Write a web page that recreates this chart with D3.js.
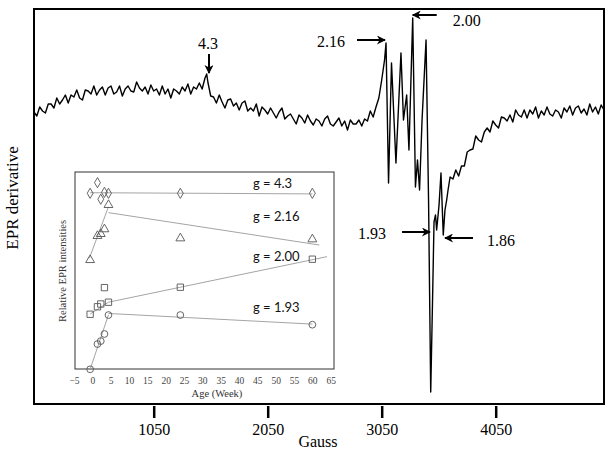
<!DOCTYPE html>
<html lang="en">
<head>
<meta charset="UTF-8">
<title>EPR spectrum</title>
<style>
  body { margin: 0; background: #fff; }
  svg { display: block; }
</style>
</head>
<body>
<div id="chart"></div>
<script src="https://cdn.jsdelivr.net/npm/d3@7"></script>
<script>
// main spectrum (Gauss, derivative signal in arbitrary units)
var specGauss = [0,25,50,75,100,125,150,175,200,225,250,275,300,325,350,375,400,425,450,475,
  500,525,550,575,600,625,650,675,700,725,750,775,800,825,850,875,900,925,950,975,
  1000,1025,1050,1075,1100,1125,1150,1175,1200,1225,1250,1275,1300,1325,1350,1375,1400,1425,1450,1475,
  1500,1515,1525,1550,1575,1600,1625,1650,1675,1700,1725,1750,1775,1800,1825,1850,1875,1900,1925,1950,1975,
  2000,2025,2050,2075,2100,2125,2150,2175,2200,2225,2250,2275,2300,2325,2350,2375,2400,2425,2450,2475,
  2500,2525,2550,2575,2600,2625,2650,2675,2700,2725,2750,2775,2800,2825,2850,2875,2900,2925,2950,2975,
  3000,3025,3050,3075,3088,3110,3136,3175,3219,3241,3269,3289,3322,3346,3364,3382,3404,3439,3461,3480,
  3496,3509,3522,3532,3553,3570,3590,3605,3620,3632,3650,3675,3700,3725,3750,3775,3800,3825,3850,3875,
  3900,3925,3950,3975,4000,4025,4050,4075,4100,4125,4150,4175,4200,4225,4250,4275,4300,4325,4350,4375,
  4400,4425,4450,4475,4500,4525,4550,4575,4600,4625,4650,4675,4700,4725,4750,4775,4800,4825,4850,4875,
  4900,4925,4950,4975,5000];
var specSignal = [-12,-16,-7,-11,-13,-4,-4,-8,2,-4,0,5,-3,5,3,10,2,0,10,9,
  6,14,5,10,13,5,12,14,6,8,14,4,11,14,9,8,18,12,9,13,
  6,15,9,11,5,14,6,11,2,11,9,6,13,9,16,6,13,11,17,11,
  22,26,18,4,3,-3,5,-2,-8,0,1,-6,-3,-10,-3,-1,-11,-8,-11,-4,-16,
  -7,-10,-14,-8,-13,-18,-12,-8,-19,-16,-14,-19,-24,-15,-18,-23,-15,-21,-25,-19,
  -21,-26,-19,-16,-24,-26,-22,-18,-26,-21,-30,-20,-24,-24,-20,-26,-19,-21,-11,-17,
  -7,2,20,40,57,-83,37,-63,47,-20,5,-50,82,-87,-60,-90,-20,60,-100,-292,
  -200,-122,-115,-130,-105,-73,-135,-110,-100,-90,-77,-79,-70,-76,-66,-66,-52,-50,-49,-36,
  -40,-42,-32,-28,-32,-21,-25,-28,-17,-18,-21,-15,-22,-10,-15,-17,-10,-18,-10,-14,
  -7,-18,-11,-15,-7,-14,-16,-10,-12,-18,-8,-12,-6,-15,-8,-6,-13,-9,-15,-4,
  -12,-7,-14,-5,-10];
var gaussTicks = [1050, 2050, 3050, 4050];

// g-value markers on the spectrum: tip position (Gauss, signal)
var peakLabels = ["4.3", "2.16", "2.00", "1.93", "1.86"];
var peakGauss  = [1535, 3079, 3322, 3474, 3605];
var peakSignal = [27, 60, 85, -132, -138];

// inset: relative EPR intensity against age
var weeks = [-0.6, 1.4, 2.3, 3.3, 4.4, 24, 60];
var g43  = [89.2, 94.6, 86.2, 89.7, 89.2, 89.2, 89.2];
var g216 = [55.4, 67.6, 68.6, 71.0, 83.3, 66.4, 65.9];
var g200 = [27.9, 31.7, 33.1, 41.4, 34.0, 41.6, 55.8];
var g193 = [0, 12.8, 14.3, 17.9, 27.5, 27.5, 22.6];
var fit43  = [[[-0.6, 89.5], [60, 88.9]]];
var fit216 = [[[-0.8, 56.3], [4.4, 82.4]], [[4.4, 79.4], [61.9, 63.0]]];
var fit200 = [[[-0.6, 28.0], [4.4, 34.0]], [[4.4, 34.0], [64, 57.1]]];
var fit193 = [[[-0.6, 0], [4.4, 27.6]], [[4.4, 28.3], [60, 22.9]]];
var seriesNames = ["g = 4.3", "g = 2.16", "g = 2.00", "g = 1.93"];
var nameLevel = [94.4, 77.3, 57.4, 31.2];
var weekTicks = [-5, 0, 5, 10, 15, 20, 25, 30, 35, 40, 45, 50, 55, 60, 65];

(function() {
  var width = 612, height = 453;
  var serif = "'Liberation Serif', 'Times New Roman', serif";

  var svg = d3.select("#chart").append("svg")
    .attr("width", width)
    .attr("height", height)
    .style("background", "#fff");

  var defs = svg.append("defs");
  defs.append("marker")
    .attr("id", "head")
    .attr("viewBox", "0 0 10 10")
    .attr("refX", 9).attr("refY", 5)
    .attr("markerUnits", "userSpaceOnUse")
    .attr("markerWidth", 10).attr("markerHeight", 9)
    .attr("orient", "auto")
    .append("path")
    .attr("d", "M0,0 L10,5 L0,10 L3,5 z")
    .attr("fill", "#000");

  var x = d3.scaleLinear().domain([0, 5000]).range([34, 604]);
  var y = d3.scaleLinear().domain([-304, 91]).range([404, 9]);

  // spectrum trace
  var line = d3.line()
    .x(function(d, i) { return x(specGauss[i]); })
    .y(function(d) { return y(d); });
  svg.append("path")
    .datum(specSignal)
    .attr("d", line)
    .attr("fill", "none")
    .attr("stroke", "#000")
    .attr("stroke-width", 1.4)
    .attr("stroke-linejoin", "round");

  // frame
  svg.append("rect")
    .attr("x", 34).attr("y", 9)
    .attr("width", 570).attr("height", 395)
    .attr("fill", "none")
    .attr("stroke", "#000")
    .attr("stroke-width", 2);

  var xAxis = d3.axisBottom(x)
    .tickValues(gaussTicks)
    .tickSize(12)
    .tickPadding(6)
    .tickFormat(d3.format("d"));
  var gx = svg.append("g")
    .attr("transform", "translate(0,406)")
    .call(xAxis);
  gx.select(".domain").remove();
  gx.selectAll(".tick line").attr("stroke", "#000").attr("stroke-width", 2.5);
  gx.selectAll(".tick text")
    .attr("font-family", serif)
    .attr("font-size", 16)
    .attr("fill", "#000");

  svg.append("text")
    .attr("x", 318).attr("y", 447)
    .attr("text-anchor", "middle")
    .attr("font-family", serif)
    .attr("font-size", 16)
    .text("Gauss");

  svg.append("text")
    .attr("transform", "translate(18,198) rotate(-90)")
    .attr("text-anchor", "middle")
    .attr("font-family", serif)
    .attr("font-size", 17)
    .text("EPR derivative");

  // arrows pointing at g-values
  var arrowDir = [[0, -19], [-28, 0], [24, 0], [-28, 0], [28, 0]];
  var labelPos = [[-1, -24], [-54, 7], [54, 11], [-58, 7], [56, 8]];
  peakLabels.forEach(function(lab, i) {
    var tx = x(peakGauss[i]), ty = y(peakSignal[i]);
    svg.append("line")
      .attr("x1", tx + arrowDir[i][0]).attr("y1", ty + arrowDir[i][1])
      .attr("x2", tx).attr("y2", ty)
      .attr("stroke", "#000")
      .attr("stroke-width", 2)
      .attr("marker-end", "url(#head)");
    svg.append("text")
      .attr("x", tx + labelPos[i][0]).attr("y", ty + labelPos[i][1])
      .attr("text-anchor", "middle")
      .attr("font-family", serif)
      .attr("font-size", 16)
      .text(lab);
  });

  // inset
  var ix = d3.scaleLinear().domain([-5, 65]).range([74, 330.7]);
  var iy = d3.scaleLinear().domain([0, 100]).range([369.3, 172]);
  var inset = svg.append("g");
  inset.append("rect")
    .attr("x", 75).attr("y", 172)
    .attr("width", 259).attr("height", 197)
    .attr("fill", "#fff")
    .attr("stroke", "#333")
    .attr("stroke-width", 1);

  var ixAxis = d3.axisBottom(ix).tickValues(weekTicks).tickSize(0).tickPadding(8);
  var gix = inset.append("g").attr("transform", "translate(0,369.3)").call(ixAxis);
  gix.select(".domain").remove();
  gix.selectAll(".tick text")
    .attr("font-family", serif)
    .attr("font-size", 9.5)
    .attr("fill", "#444");

  inset.append("text")
    .attr("x", 217).attr("y", 397)
    .attr("text-anchor", "middle")
    .attr("font-family", serif)
    .attr("font-size", 10.5)
    .attr("fill", "#333")
    .text("Age  (Week)");

  inset.append("text")
    .attr("transform", "translate(66,271) rotate(-90)")
    .attr("text-anchor", "middle")
    .attr("font-family", serif)
    .attr("font-size", 10.5)
    .attr("fill", "#333")
    .text("Relative EPR intensities");

  var fitLine = d3.line()
    .x(function(d) { return ix(d[0]); })
    .y(function(d) { return iy(d[1]); });
  [fit43, fit216, fit200, fit193].forEach(function(fits) {
    fits.forEach(function(seg) {
      inset.append("path")
        .attr("d", fitLine(seg))
        .attr("fill", "none")
        .attr("stroke", "#9a9a9a")
        .attr("stroke-width", 0.9);
    });
  });

  var shapes = [d3.symbolDiamond, d3.symbolTriangle, d3.symbolSquare, d3.symbolCircle];
  var sizes = [30, 34, 40, 36];
  [g43, g216, g200, g193].forEach(function(vals, s) {
    inset.selectAll(".pt" + s)
      .data(vals)
      .enter().append("path")
      .attr("transform", function(d, i) { return "translate(" + ix(weeks[i]) + "," + iy(d) + ")"; })
      .attr("d", d3.symbol().type(shapes[s]).size(sizes[s]))
      .attr("fill", "none")
      .attr("stroke", "#555")
      .attr("stroke-width", 0.9);
  });

  seriesNames.forEach(function(name, i) {
    inset.append("text")
      .attr("x", ix(43.8)).attr("y", iy(nameLevel[i]))
      .attr("dy", "0.35em")
      .attr("font-family", "Lato, 'Open Sans', sans-serif")
      .attr("font-size", 13)
      .attr("fill", "#111")
      .text(name);
  });
})();
</script>
</body>
</html>
